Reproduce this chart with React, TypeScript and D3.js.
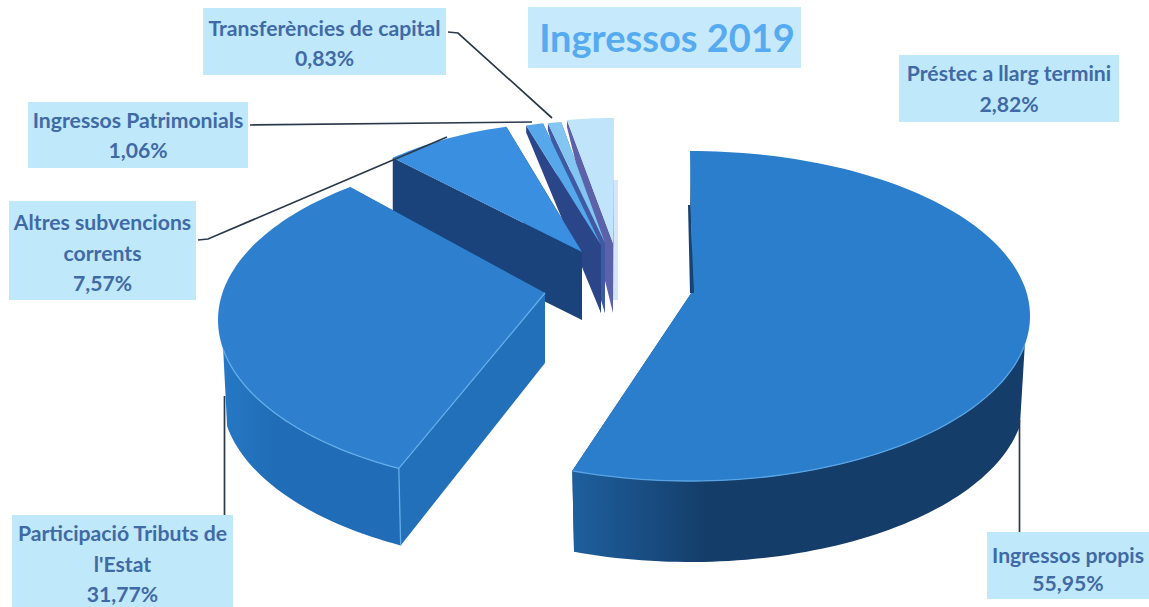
import * as d3 from "d3";

// Values as printed on the chart, clockwise from 12 o'clock
const categories = [
    "Ingressos propis",
    "Participació Tributs de l'Estat",
    "Altres subvencions corrents",
    "Ingressos Patrimonials",
    "Transferències de capital",
    "Préstec a llarg termini",
];
const values = [55.95, 31.77, 7.57, 1.06, 0.83, 2.82];
const categoryLines = [
    ["Ingressos propis"],
    ["Participació Tributs de", "l'Estat"],
    ["Altres subvencions", "corrents"],
    ["Ingressos Patrimonials"],
    ["Transferències de capital"],
    ["Préstec a llarg termini"],
];
const chartTitle = "Ingressos 2019";

const WIDTH = 1149;
const HEIGHT = 607;
const DEG = Math.PI / 180;

// Each slice is exploded and foreshortened on its own, so each gets its own ellipses
const sliceLayout = [
    { cx: 690, cy: 316, rx: 340, ry: 165, bcx: 690, bcy: 397, brx: 335, ax: 692, ay: 292, ady: 80, twist: 0, stretch: 0.9942 },
    { cx: 558, cy: 320, rx: 340, ry: 168, bcx: 558, bcy: 397, brx: 336, ax: 545, ay: 293, ady: 70, twist: 6.5, stretch: 1 },
    { cx: 588, cy: 251, rx: 280, ry: 130, bcx: 588, bcy: 319, brx: 280, ax: 582, ay: 252, ady: 68, twist: 0, stretch: 1 },
    { cx: 602, cy: 245, rx: 260, ry: 125, bcx: 602, bcy: 252, brx: 260, ax: 601, ay: 245, ady: 68, twist: 0, stretch: 1 },
    { cx: 607, cy: 245, rx: 260, ry: 125, bcx: 607, bcy: 252, brx: 260, ax: 605, ay: 243, ady: 70, twist: 0, stretch: 1 },
    { cx: 614, cy: 243, rx: 267, ry: 125, bcx: 614, bcy: 250, brx: 267, ax: 613, ay: 243, ady: 70, twist: 0, stretch: 1 },
];

const sliceColors = [
    { face: "#2a7ecb", cut: "#174372", wallFrom: "#1e5f9e", wallTo: "#143d69", edge: "#58a4e4" },
    { face: "#2e80cf", cut: "#2270b9", wallFrom: "#2678c4", wallTo: "#206cb6", edge: "#62aeea" },
    { face: "#3a8fe0", cut: "#19437a", wallFrom: "#19437a", wallTo: "#19437a", edge: "none" },
    { face: "#56a8ea", cut: "#2b4688", wallFrom: "#2b4688", wallTo: "#2b4688", edge: "none" },
    { face: "#84c6f2", cut: "#3f5aa2", wallFrom: "#3f5aa2", wallTo: "#3f5aa2", edge: "none" },
    { face: "#c0e4fa", cut: "#5c62aa", wallFrom: "#5c62aa", wallTo: "#5c62aa", edge: "none" },
];

const labelBoxes = [
    { x: 987, y: 532, w: 162, h: 67, base: 563, lead: 28 },
    { x: 12, y: 515, w: 221, h: 92, base: 541, lead: 30.5 },
    { x: 9, y: 201, w: 187, h: 99, base: 230, lead: 30.5 },
    { x: 28, y: 102, w: 220, h: 66, base: 128, lead: 30 },
    { x: 203, y: 8, w: 243, h: 67, base: 36, lead: 30 },
    { x: 899, y: 55, w: 220, h: 67, base: 81, lead: 31 },
];

const leaderLines: [number, number][][] = [
    [[1019.5, 420], [1019.5, 532]],
    [[224.5, 396], [224.5, 515]],
    [[198, 240], [208, 239], [393, 160], [447, 137]],
    [[250, 125], [532, 122]],
    [[448, 32], [458, 33], [552, 118]],
];

const lineGen = d3.line<[number, number]>();
const pct = (v: number) => d3.format(".2f")(v).replace(".", ",") + "%";

type Layout = (typeof sliceLayout)[number];
const topPt = (s: Layout, a: number): [number, number] => [s.cx + s.rx * Math.sin(a), s.cy - s.ry * Math.cos(a)];
const botPt = (s: Layout, a: number): [number, number] => [s.bcx + s.brx * Math.sin(a), s.bcy - s.ry * Math.cos(a)];

const sweep = (a0: number, a1: number) => {
    const n = Math.max(2, Math.ceil((a1 - a0) / (1.5 * DEG)));
    return d3.range(n + 1).map((i) => a0 + ((a1 - a0) * i) / n);
};

const App = () => {
    const arcs = d3.pie<number>().sort(null).value((d) => d)(values);

    const slices = arcs.map((arc, i) => {
        const s = sliceLayout[i];
        const a0 = arc.startAngle * s.stretch + s.twist * DEG;
        const a1 = arc.endAngle * s.stretch + s.twist * DEG;
        const apex: [number, number] = [s.ax, s.ay];
        const apexLow: [number, number] = [s.ax, s.ay + s.ady];

        const rim = sweep(a0, a1).map((a) => topPt(s, a));
        const face = lineGen([apex, ...rim]) + "Z";

        // the wall only shows on the near half of the rim
        const w0 = Math.max(a0, 100 * DEG);
        const w1 = Math.min(a1, 260 * DEG);
        const wall =
            w1 > w0
                ? lineGen([
                      ...sweep(w0, w1).map((a) => topPt(s, a)),
                      ...sweep(w0, w1).reverse().map((a) => botPt(s, a)),
                  ]) + "Z"
                : null;

        const cut0 = lineGen([apex, topPt(s, a0), botPt(s, a0), apexLow]) + "Z";
        const cut1 = lineGen([apex, topPt(s, a1), botPt(s, a1), apexLow]) + "Z";

        // light edge along the near rim, the cut and the corner
        const edge = i === 1 ? lineGen([botPt(s, a0), topPt(s, a0), apex]) : null;
        const rimEdge = w1 > w0 ? lineGen(sweep(w0, w1).map((a) => topPt(s, a))) : null;

        return { i, face, wall, cut0, cut1, edge, rimEdge };
    });

    return (
        <svg
            width={WIDTH}
            height={HEIGHT}
            viewBox={`0 0 ${WIDTH} ${HEIGHT}`}
            style={{ position: "absolute", left: 0, top: 0, background: "#fff" }}
            fontFamily="Lato, 'Open Sans', sans-serif"
        >
            <defs>
                {sliceColors.map((c, i) => (
                    <linearGradient key={i} id={`wall-${i}`} x1="0" x2="1" y1="0" y2="0">
                        <stop offset="0" stopColor={c.wallFrom} />
                        <stop offset="0.3" stopColor={c.wallTo} />
                        <stop offset="1" stopColor={c.wallTo} />
                    </linearGradient>
                ))}
            </defs>

            {/* label boxes */}
            {labelBoxes.map((b, i) => (
                <rect key={i} x={b.x} y={b.y} width={b.w} height={b.h} fill="#bfe8fb" />
            ))}
            <rect x={528} y={7} width={273} height={61} fill="#c6e9fb" />
            <text x={667} y={52} textAnchor="middle" fontSize={38} fontWeight={700} fill="#55aaf0">
                {chartTitle}
            </text>

            {/* pale scrap next to the smallest slices */}
            <rect x={613} y={180} width={5} height={120} fill="#d4e6f8" />

            {/* back to front */}
            {slices
                .slice()
                .reverse()
                .map((sl) => {
                    const c = sliceColors[sl.i];
                    return (
                        <g key={categories[sl.i]}>
                            <path d={sl.cut1} fill={c.cut} />
                            <path d={sl.cut0} fill={c.cut} />
                            {sl.wall && <path d={sl.wall} fill={`url(#wall-${sl.i})`} />}
                            <path d={sl.face} fill={c.face} />
                            {sl.rimEdge && <path d={sl.rimEdge} fill="none" stroke={c.edge} strokeWidth={1.3} />}
                            {sl.edge && <path d={sl.edge} fill="none" stroke={c.edge} strokeWidth={1.3} />}
                        </g>
                    );
                })}
            {/* dark sliver behind the big slice */}
            <path d="M688,205L690,293L694,293L690,205Z" fill="#174372" />

            {/* leader lines */}
            {leaderLines.map((pts, i) => (
                <path key={i} d={lineGen(pts) ?? ""} fill="none" stroke="#2b3a4a" strokeWidth={1.7} />
            ))}

            {/* label text */}
            {labelBoxes.map((b, i) => {
                const lines = [...categoryLines[i], pct(values[i])];
                return (
                    <text key={i} textAnchor="middle" fontSize={21.2} fontWeight={700} fill="#3f6aa6">
                        {lines.map((t, j) => (
                            <tspan key={j} x={b.x + b.w / 2} y={b.base + j * b.lead}>
                                {t}
                            </tspan>
                        ))}
                    </text>
                );
            })}
        </svg>
    );
};

export default App;
